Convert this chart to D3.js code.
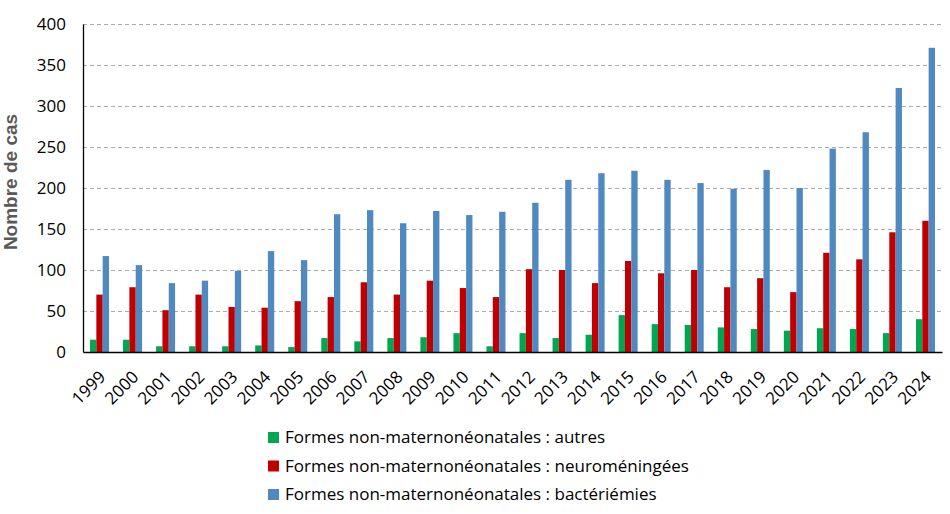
<!DOCTYPE html>
<meta charset="utf-8">
<style>
    body { margin: 0; background: #fff; }
    .grid line { stroke: #ababab; stroke-dasharray: 4,3; }
    .grid path { display: none; }
    .tick text { font-family: "Open Sans", sans-serif; font-size: 17px; fill: #000; }
    .legend text { font-family: "Open Sans", sans-serif; font-size: 17px; fill: #000; }
</style>
<svg width="950" height="514"></svg>
<script src="https://d3js.org/d3.v7.min.js"></script>
<script>

    var years = ["1999", "2000", "2001", "2002", "2003", "2004", "2005", "2006", "2007", "2008",
        "2009", "2010", "2011", "2012", "2013", "2014", "2015", "2016", "2017", "2018",
        "2019", "2020", "2021", "2022", "2023", "2024"];

    var autres = [15, 15, 7, 7, 7, 8, 6, 17, 13, 17, 18, 23, 7, 23, 17, 21, 45, 34, 33, 30, 28, 26, 29, 28, 23, 40];
    var neuro = [70, 79, 51, 70, 55, 54, 62, 67, 85, 70, 87, 78, 67, 101, 100, 84, 111, 96, 100, 79, 90, 73, 121, 113, 146, 160];
    var bacter = [117, 106, 84, 87, 99, 123, 112, 168, 173, 157, 172, 167, 171, 182, 210, 218, 221, 210, 206, 199, 222, 200, 248, 268, 322, 371];

    var seriesNames = ["Formes non-maternonéonatales : autres",
        "Formes non-maternonéonatales : neuroméningées",
        "Formes non-maternonéonatales : bactériémies"];
    var seriesColors = ["#00a650", "#c00000", "#4f89c0"];
    var yTicks = [0, 50, 100, 150, 200, 250, 300, 350, 400];

    var svg = d3.select("svg"),
        margin = {top: 24, right: 8, bottom: 162, left: 83},
        width = +svg.attr("width") - margin.left - margin.right,
        height = +svg.attr("height") - margin.top - margin.bottom;

    var allSeries = [autres, neuro, bacter];

    var rows = years.map(function(yr, i) {
        return {year: yr, values: allSeries.map(function(s, k) { return {k: k, v: s[i]}; })};
    });

    var x = d3.scaleBand().domain(years).range([0, width]).padding(0),
        groupW = 19,
        xs = d3.scaleBand().domain([0, 1, 2]).range([0, groupW]),
        y = d3.scaleLinear().domain([0, 400]).range([height, 0]);

    var g = svg.append("g")
        .attr("transform", "translate(" + margin.left + "," + margin.top + ")");

    // dashed gridlines
    g.append("g")
        .attr("class", "grid")
        .call(d3.axisLeft(y).tickValues(yTicks.slice(1)).tickSize(-width).tickFormat(""));

    // y axis labels
    var yAxis = g.append("g")
        .call(d3.axisLeft(y).tickValues(yTicks).tickSize(0).tickPadding(17));
    yAxis.select(".domain").attr("stroke", "#000").attr("stroke-width", 1.3);

    // bars
    var groups = g.selectAll(".grp")
        .data(rows)
        .enter().append("g")
        .attr("class", "grp")
        .attr("transform", function(d) { return "translate(" + (x(d.year) + (x.bandwidth() - groupW) / 2) + ",0)"; });

    groups.selectAll("rect")
        .data(function(d) { return d.values; })
        .enter().append("rect")
        .attr("x", function(d) { return xs(d.k); })
        .attr("y", function(d) { return y(d.v); })
        .attr("width", xs.bandwidth())
        .attr("height", function(d) { return height - y(d.v); })
        .attr("fill", function(d) { return seriesColors[d.k]; });

    // x axis
    var xAxis = g.append("g")
        .attr("transform", "translate(0," + height + ")")
        .call(d3.axisBottom(x).tickSize(0));
    xAxis.select(".domain").attr("stroke", "#000").attr("stroke-width", 1.3);
    xAxis.selectAll(".tick text")
        .attr("text-anchor", "end")
        .attr("dy", 0)
        .attr("y", 0)
        .attr("transform", "translate(7,26) rotate(-45)");

    // y title
    svg.append("text")
        .attr("transform", "translate(17," + (margin.top + height / 2 - 6) + ") rotate(-90)")
        .attr("text-anchor", "middle")
        .style("font-family", "'Liberation Sans', Arial, sans-serif")
        .style("font-weight", "bold")
        .style("font-size", "19px")
        .style("fill", "#595959")
        .text("Nombre de cas");

    // legend
    var legend = svg.append("g")
        .attr("class", "legend")
        .attr("transform", "translate(268,438)");

    var items = legend.selectAll("g")
        .data(seriesNames)
        .enter().append("g")
        .attr("transform", function(d, i) { return "translate(0," + (i * 28.5) + ")"; });

    items.append("rect")
        .attr("x", 0)
        .attr("y", -6)
        .attr("width", 11)
        .attr("height", 11)
        .attr("fill", function(d, i) { return seriesColors[i]; });

    items.append("text")
        .attr("x", 17)
        .attr("y", 5)
        .text(function(d) { return d; });
</script>
